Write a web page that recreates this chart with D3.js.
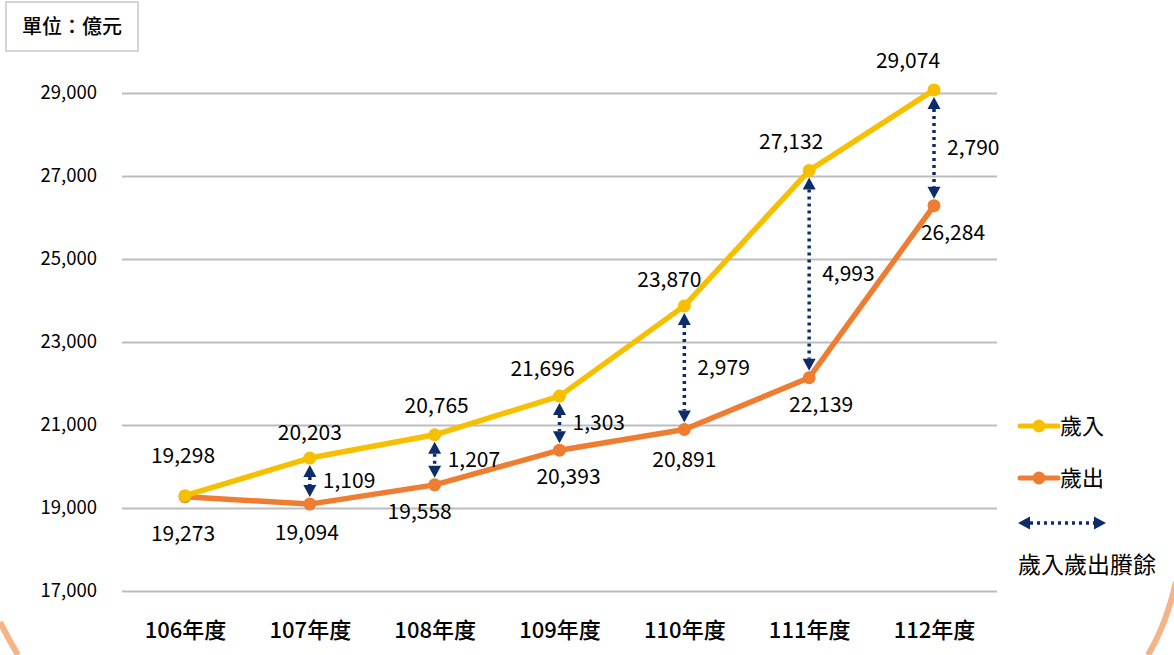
<!DOCTYPE html>
<html>
<head>
<meta charset="utf-8">
<script src="https://cdn.jsdelivr.net/npm/d3@7"></script>
<style>
  html, body { margin: 0; padding: 0; background: #fff; }
  svg { display: block; font-family: "Noto Sans CJK TC", "Noto Sans", sans-serif; }
</style>
</head>
<body>
<div id="chart"></div>
<script>
// data (億元)
const years = ['106年度','107年度','108年度','109年度','110年度','111年度','112年度'];
const income = [19298, 20203, 20765, 21696, 23870, 27132, 29074];
const expense = [19273, 19094, 19558, 20393, 20891, 22139, 26284];
const surplus = [null, 1109, 1207, 1303, 2979, 4993, 2790];
const yTicks = [17000, 19000, 21000, 23000, 25000, 27000, 29000];

// small nudges so labels sit where the original has them
const incomeLabelDx = [-2, 0, 2, -17, -15, -18, -26];
const incomeLabelDy = [-15, 0, -4, -2, -1, -4, -4];
const expenseLabelDx = [-2, -3, -15, 9, 0, 12, 19];
const expenseLabelDy = [10, 2, 0, 0, 3, 0, 0];

const width = 1174, height = 655;
const yellow = '#f6c000', orange = '#ee7d31', navy = '#0c2c6a';

const svg = d3.select('#chart').append('svg')
  .attr('width', width).attr('height', height);

const x = d3.scalePoint().domain(years).range([185, 934]);
const y = d3.scaleLinear().domain([17000, 29000]).range([591, 93]);

// decorative frame arcs
svg.append('path')
  .attr('d', 'M0,622 Q8,638 18,655')
  .attr('fill', 'none').attr('stroke', '#f5b387').attr('stroke-width', 6);
svg.append('path')
  .attr('d', 'M1176,582 Q1166,625 1148,655')
  .attr('fill', 'none').attr('stroke', '#f5b387').attr('stroke-width', 6);

// unit box
svg.append('rect')
  .attr('x', 6).attr('y', 2).attr('width', 132).attr('height', 49)
  .attr('fill', '#fff').attr('stroke', '#c8c8c8').attr('stroke-width', 1.5);
svg.append('text')
  .attr('x', 72).attr('y', 34).attr('text-anchor', 'middle')
  .attr('font-size', 20).attr('font-weight', 500).attr('fill', '#000')
  .text('單位：億元');

// gridlines + y labels
const yAxis = d3.axisLeft(y).tickValues(yTicks)
  .tickSize(-(997 - 122)).tickPadding(25)
  .tickFormat(d3.format(','));
const gy = svg.append('g').attr('transform', 'translate(122,0)').call(yAxis);
gy.select('.domain').remove();
gy.selectAll('.tick line').attr('stroke', '#bdbdbd').attr('stroke-width', 2);
gy.selectAll('.tick text').attr('font-size', 18.5).attr('fill', '#000')
  .attr('font-family', '"Noto Sans CJK TC", sans-serif');

// x labels
const xAxis = d3.axisBottom(x).tickSize(0).tickPadding(0);
const gx = svg.append('g').attr('transform', 'translate(0,622)').call(xAxis);
gx.select('.domain').remove();
gx.selectAll('.tick text').attr('font-size', 22).attr('font-weight', 500)
  .attr('fill', '#000').attr('font-family', '"Noto Sans CJK TC", sans-serif');

// surplus arrows
function arrow(g, x1, y1, x2, y2) {
  const ang = Math.atan2(y2 - y1, x2 - x1);
  const L = 12, W = 6.5;
  const ux = Math.cos(ang), uy = Math.sin(ang);
  g.append('line')
    .attr('x1', x1 + ux * L).attr('y1', y1 + uy * L)
    .attr('x2', x2 - ux * L).attr('y2', y2 - uy * L)
    .attr('stroke', navy).attr('stroke-width', 3.5)
    .attr('stroke-dasharray', '3,4');
  const head = (tx, ty, dir) => {
    const bx = tx + dir * ux * L, by = ty + dir * uy * L;
    g.append('path')
      .attr('d', `M${tx},${ty}L${bx - uy * W},${by + ux * W}L${bx + uy * W},${by - ux * W}Z`)
      .attr('fill', navy);
  };
  head(x1, y1, 1);
  head(x2, y2, -1);
}

const arrows = svg.append('g');
years.forEach((yr, i) => {
  if (surplus[i] == null) return;
  const cx = x(yr);
  const top = y(income[i]) + 7, bot = y(expense[i]) - 7;
  arrow(arrows, cx, top, cx, Math.max(bot, top + 26));
});

// lines and markers
const line = d3.line().x((d, i) => x(years[i])).y(d => y(d));
[[expense, orange], [income, yellow]].forEach(([vals, col]) => {
  svg.append('path').datum(vals)
    .attr('d', line).attr('fill', 'none')
    .attr('stroke', col).attr('stroke-width', 5.5)
    .attr('stroke-linejoin', 'round');
  svg.append('g').selectAll('circle').data(vals).enter().append('circle')
    .attr('cx', (d, i) => x(years[i])).attr('cy', d => y(d))
    .attr('r', 6.5).attr('fill', col);
});

// value labels
const fmt = d3.format(',');
const labels = svg.append('g').attr('font-size', 21).attr('fill', '#000')
  .attr('text-anchor', 'middle');
income.forEach((v, i) => {
  labels.append('text')
    .attr('x', x(years[i]) + incomeLabelDx[i])
    .attr('y', y(v) - 18 + incomeLabelDy[i])
    .text(fmt(v));
});
expense.forEach((v, i) => {
  labels.append('text')
    .attr('x', x(years[i]) + expenseLabelDx[i])
    .attr('y', y(v) + 34 + expenseLabelDy[i])
    .text(fmt(v));
});
surplus.forEach((v, i) => {
  if (v == null) return;
  const mid = (y(income[i]) + y(expense[i])) / 2;
  labels.append('text')
    .attr('text-anchor', 'start')
    .attr('x', x(years[i]) + 13).attr('y', mid + 7)
    .text(fmt(v));
});

// legend
const lg = svg.append('g');
[[yellow, '歲入', 426], [orange, '歲出', 478]].forEach(([col, name, ly]) => {
  lg.append('line').attr('x1', 1020).attr('x2', 1058).attr('y1', ly).attr('y2', ly)
    .attr('stroke', col).attr('stroke-width', 5).attr('stroke-linecap', 'round');
  lg.append('circle').attr('cx', 1039).attr('cy', ly).attr('r', 6.5).attr('fill', col);
  lg.append('text').attr('x', 1060).attr('y', ly + 8)
    .attr('font-size', 22).attr('fill', '#000').text(name);
});
arrow(lg, 1018, 523, 1106, 523);
lg.append('text').attr('x', 1018).attr('y', 573)
  .attr('font-size', 23).attr('fill', '#000').text('歲入歲出賸餘');
</script>
</body>
</html>
